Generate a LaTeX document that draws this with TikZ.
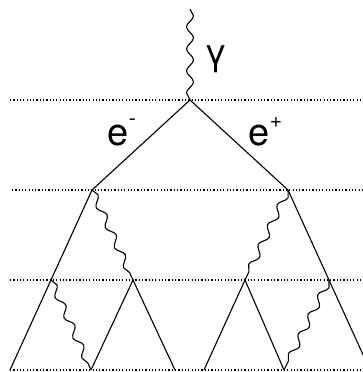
\documentclass[tikz,border=0pt]{standalone}
\usepackage{fontspec}
\setmainfont{TeX Gyre Heros}
\usetikzlibrary{decorations.pathmorphing}
\begin{document}
\begin{tikzpicture}[x=1pt,y=-1pt,
  fermion/.style={draw=black,line width=1.1pt},
  photon/.style={draw=black,line width=1.1pt,decorate,
    decoration={snake,segment length=22pt,amplitude=3.5pt}},
  level/.style={draw=black,line width=1.1pt,dash pattern=on 1.2pt off 2.1pt},
  lbl/.style={inner sep=0pt,anchor=base west,font=\fontsize{38}{42}\selectfont}]
\useasboundingbox (0,0) rectangle (363,372);
\clip (0,0) rectangle (363,372);
% level lines
\coordinate (w0) at (10,100);  \coordinate (e0) at (363,100);
\coordinate (w1) at (12,190);  \coordinate (e1) at (363,190);
\coordinate (w2) at (10,280);  \coordinate (e2) at (363,280);
\coordinate (w3) at (10,370);  \coordinate (e3) at (363,370);
\foreach \i in {0,1,2,3} \draw[level] (w\i) -- (e\i);
% vertices
\coordinate (src) at (190,9);
\coordinate (T) at (190,100);
\coordinate (L1) at (92,190);
\coordinate (R1) at (288,190);
\coordinate (A) at (51,280);
\coordinate (B) at (133,280);
\coordinate (C) at (245,280);
\coordinate (D) at (329,280);
\coordinate (b1) at (10,370);
\coordinate (b2) at (91,370);
\coordinate (b3) at (175,370);
\coordinate (b4) at (204,370);
\coordinate (b5) at (284,370);
\coordinate (b6) at (370,370);
% photons
\draw[photon] (src) -- (T);
\draw[photon] (L1) -- (B);
\draw[photon] (R1) -- (C);
\draw[photon] (A) -- (b2);
\draw[photon] (D) -- (b5);
% fermions
\draw[fermion] (L1) -- (T) -- (R1);
\draw[fermion] (L1) -- (A) -- (b1);
\draw[fermion] (R1) -- (D) -- (b6);
\draw[fermion] (b2) -- (B) -- (b3);
\draw[fermion] (b4) -- (C) -- (b5);
% labels
\node[lbl,font=\fontsize{36}{40}\selectfont] (gam) at (204,64) {γ};
\node[lbl] (em) at (107.5,145) {e\raisebox{20pt}{\fontsize{21}{24}\selectfont -}};
\node[lbl] (ep) at (248.5,145) {e\raisebox{18pt}{\fontsize{21}{24}\selectfont +}};
\end{tikzpicture}
\end{document}
